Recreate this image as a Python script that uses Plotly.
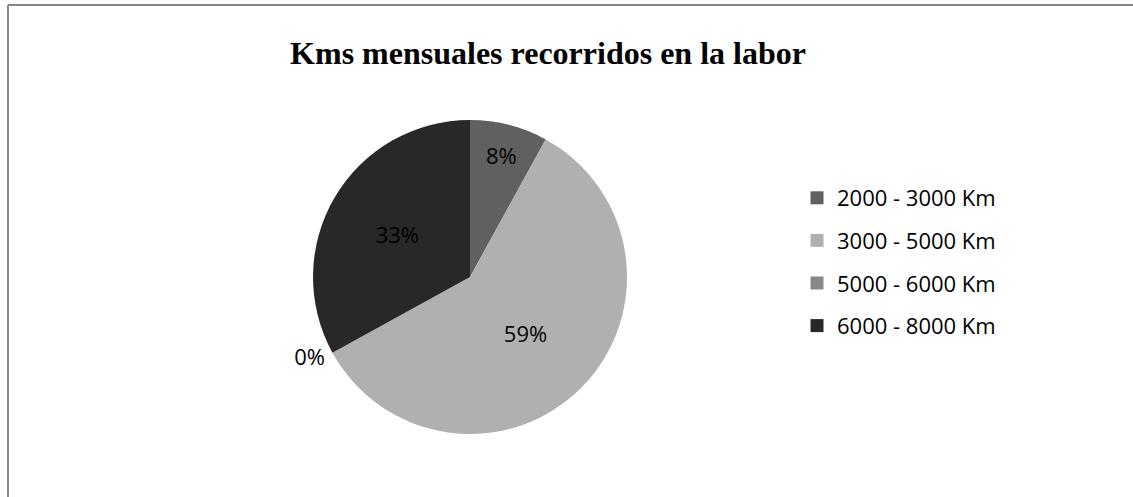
import plotly.graph_objects as go

categories = ["2000 - 3000 Km", "3000 - 5000 Km", "5000 - 6000 Km", "6000 - 8000 Km"]
values = [8, 59, 0, 33]
colors = ["#606060", "#b0b0b0", "#888888", "#282828"]
text_positions = ["inside", "inside", "outside", "inside"]
title_text = "Kms mensuales recorridos en la labor"

W, H = 1133, 497

fig = go.Figure()
fig.add_trace(go.Pie(
    labels=categories,
    values=values,
    sort=False,
    direction="clockwise",
    rotation=0,
    marker=dict(colors=colors, line=dict(width=0)),
    textinfo="percent",
    texttemplate="%{percent:.0%}",
    textposition=text_positions,
    insidetextorientation="horizontal",
    textfont=dict(family="Open Sans", size=22, color="#000000"),
    outsidetextfont=dict(family="Open Sans", size=22, color="#000000"),
    showlegend=False,
    hoverinfo="label+percent",
    domain=dict(x=[312 / W, 628 / W], y=[1 - 434 / H, 1 - 120 / H]),
))

for i, (cat, col) in enumerate(zip(categories, colors)):
    fig.add_trace(go.Scatter(
        x=[None], y=[None], mode="markers", name=cat,
        marker=dict(symbol="square", size=13, color=col),
        legendgroup=f"g{i}", showlegend=True,
    ))

fig.update_layout(
    width=W, height=H,
    margin=dict(l=0, r=0, t=0, b=0),
    paper_bgcolor="white",
    plot_bgcolor="white",
    xaxis=dict(visible=False),
    yaxis=dict(visible=False),
    title=dict(text=f"<b>{title_text}</b>", x=548 / W, xanchor="center",
               y=1 - 53 / H, yanchor="middle",
               font=dict(family="Liberation Serif", size=32, color="#000000")),
    legend=dict(x=797 / W, xanchor="left", y=1 - 262 / H, yanchor="middle",
                font=dict(family="Open Sans", size=22, color="#000000"),
                tracegroupgap=11, traceorder="grouped",
                bgcolor="rgba(0,0,0,0)"),
    shapes=[
        dict(type="line", xref="paper", yref="paper", x0=8 / W, x1=1.0,
             y0=1 - 5 / H, y1=1 - 5 / H, line=dict(color="#868686", width=2)),
        dict(type="line", xref="paper", yref="paper", x0=8 / W, x1=8 / W,
             y0=1 - 5 / H, y1=0.0, line=dict(color="#868686", width=2)),
    ],
)

fig.write_html("out.html", config={"displayModeBar": False},
               post_script="document.body.style.margin='0';")
